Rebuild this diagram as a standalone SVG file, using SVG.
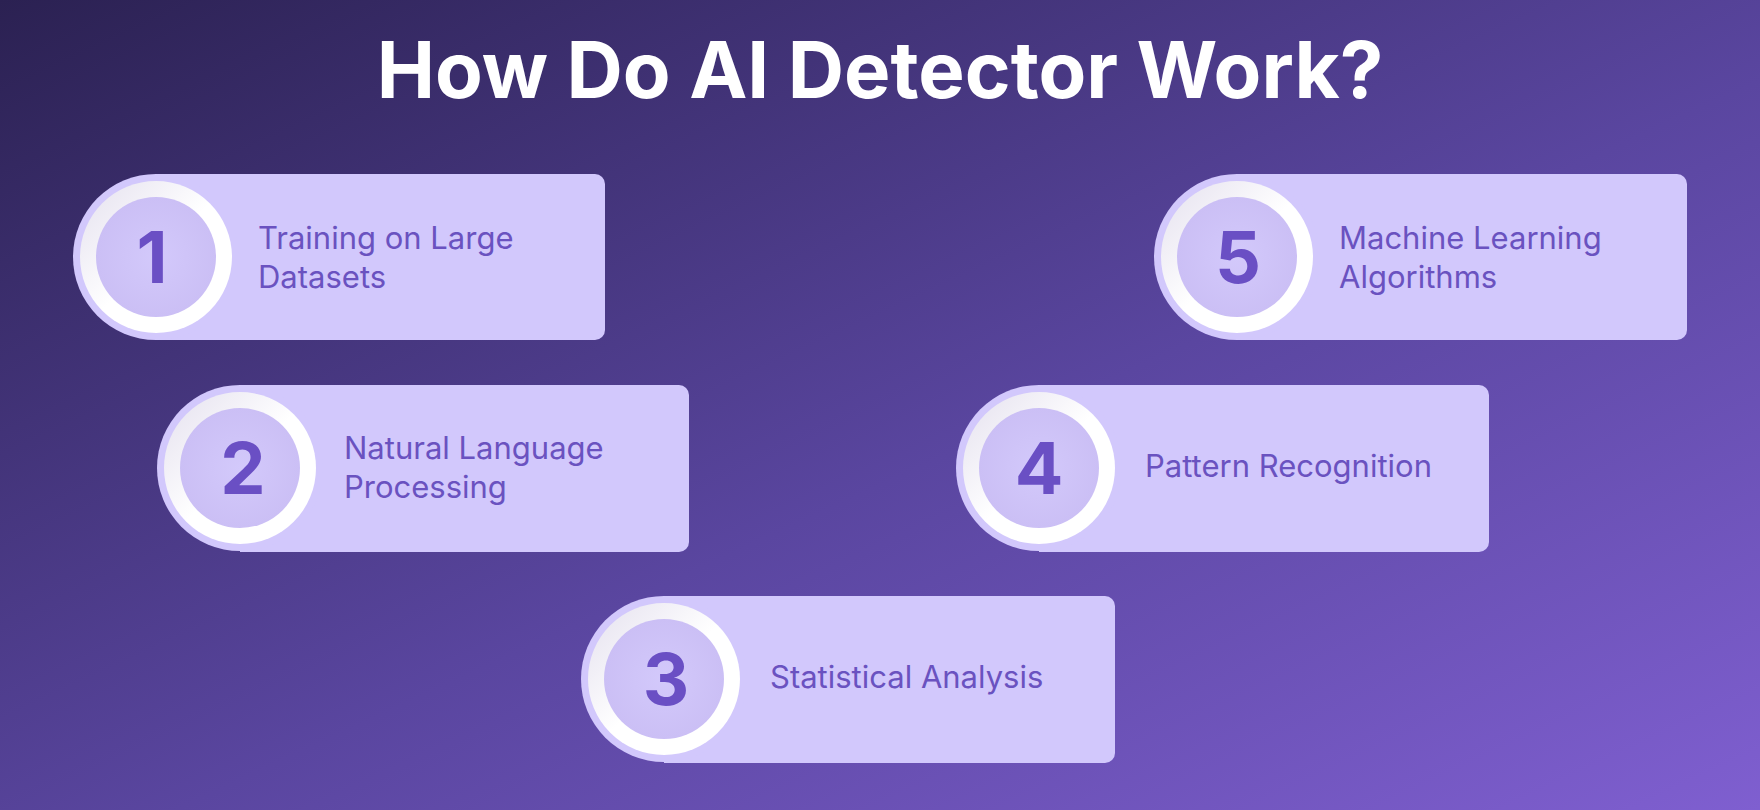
<svg xmlns="http://www.w3.org/2000/svg" width="1760" height="810" viewBox="0 0 1760 810">
<defs>
<linearGradient id="bg" x1="0" y1="0" x2="1" y2="1">
<stop offset="0" stop-color="#2b2152"/>
<stop offset="0.55" stop-color="#5a46a0"/>
<stop offset="1" stop-color="#7f5fd0"/>
</linearGradient>
<linearGradient id="ring" x1="0" y1="0" x2="1" y2="1">
<stop offset="0" stop-color="#e4e0ee"/>
<stop offset="0.5" stop-color="#ffffff"/>
<stop offset="1" stop-color="#ffffff"/>
</linearGradient>
<radialGradient id="inner" cx="0.5" cy="0.5" r="0.5">
<stop offset="0" stop-color="#d3c9fb"/>
<stop offset="1" stop-color="#cbbff5"/>
</radialGradient>
</defs>
<style>
.card{fill:#d2c8fc}
.halo{fill:#d2c8fc}
.ring{fill:url(#ring)}
.in{fill:url(#inner)}
.num{font-family:Inter,"Liberation Sans",sans-serif;font-weight:700;font-size:72px;fill:#6a4fc4;text-anchor:middle}
.lbl{font-family:Inter,"Liberation Sans",sans-serif;font-size:31px;fill:#6a52c0}
.title{font-family:Inter,"Liberation Sans",sans-serif;font-weight:700;font-size:78px;fill:#ffffff;text-anchor:middle}
</style>
<rect width="1760" height="810" fill="url(#bg)"/>
<text class="title" x="880" y="98">How Do AI Detector Work?</text>
<g id="connectors"></g>
<g id="node1">
<rect class="card" x="156" y="174" width="449" height="166" rx="10"/>
<rect class="card" x="156" y="174" width="30" height="166"/>
<circle class="halo" cx="156" cy="257" r="83"/>
<circle class="ring" cx="156" cy="257" r="76"/>
<circle class="in" cx="156" cy="257" r="60"/>
<text class="num" x="152" y="283">1</text>
<text class="lbl" x="258" y="249">Training on Large</text>
<text class="lbl" x="258" y="288">Datasets</text>
</g>
<g id="node2">
<rect class="card" x="240" y="385" width="449" height="167" rx="10"/>
<rect class="card" x="240" y="385" width="30" height="167"/>
<circle class="halo" cx="240" cy="468" r="83"/>
<circle class="ring" cx="240" cy="468" r="76"/>
<circle class="in" cx="240" cy="468" r="60"/>
<text class="num" x="243" y="494">2</text>
<text class="lbl" x="344" y="459">Natural Language</text>
<text class="lbl" x="344" y="498">Processing</text>
</g>
<g id="node3">
<rect class="card" x="664" y="596" width="451" height="167" rx="10"/>
<rect class="card" x="664" y="596" width="30" height="167"/>
<circle class="halo" cx="664" cy="679" r="83"/>
<circle class="ring" cx="664" cy="679" r="76"/>
<circle class="in" cx="664" cy="679" r="60"/>
<text class="num" x="666" y="705">3</text>
<text class="lbl" x="770" y="688">Statistical Analysis</text>
</g>
<g id="node4">
<rect class="card" x="1039" y="385" width="450" height="167" rx="10"/>
<rect class="card" x="1039" y="385" width="30" height="167"/>
<circle class="halo" cx="1039" cy="468" r="83"/>
<circle class="ring" cx="1039" cy="468" r="76"/>
<circle class="in" cx="1039" cy="468" r="60"/>
<text class="num" x="1039" y="494">4</text>
<text class="lbl" x="1145" y="477">Pattern Recognition</text>
</g>
<g id="node5">
<rect class="card" x="1237" y="174" width="450" height="166" rx="10"/>
<rect class="card" x="1237" y="174" width="30" height="166"/>
<circle class="halo" cx="1237" cy="257" r="83"/>
<circle class="ring" cx="1237" cy="257" r="76"/>
<circle class="in" cx="1237" cy="257" r="60"/>
<text class="num" x="1238" y="283">5</text>
<text class="lbl" x="1339" y="249">Machine Learning</text>
<text class="lbl" x="1339" y="288">Algorithms</text>
</g>
</svg>
